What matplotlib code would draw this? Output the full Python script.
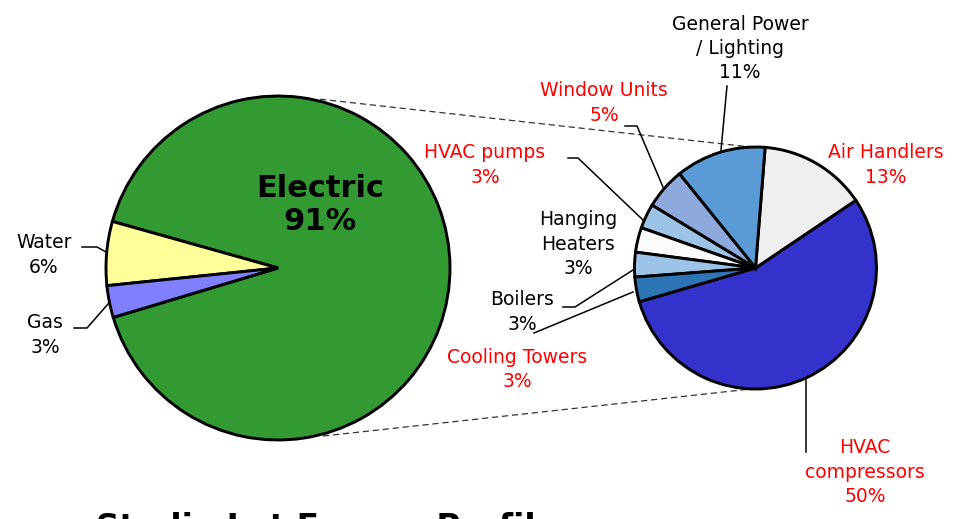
import numpy as np
import matplotlib
matplotlib.use("Agg")
import matplotlib.pyplot as plt

# ---- data ----
main_labels = ["Electric", "Water", "Gas"]
main_values = [91, 6, 3]
main_colors = ["#339933", "#FFFF99", "#8080FF"]

sub_labels = ["HVAC\ncompressors", "Air Handlers", "General Power\n/ Lighting",
              "Window Units", "HVAC pumps", "Hanging\nHeaters", "Boilers",
              "Cooling Towers"]
sub_values = [50, 13, 11, 5, 3, 3, 3, 3]
sub_colors = ["#3333CC", "#EFEFEF", "#5B9BD5", "#8EA9DB", "#9DC3E6",
              "#FAFAFA", "#9DC3E6", "#2E75B6"]
sub_label_colors = ["red", "red", "black", "red", "red", "black", "black", "red"]

title = "Studio Lot Energy Profile"

W, H = 973, 519
plt.rcParams['font.family'] = ['DejaVu Sans']
fig = plt.figure(figsize=(W / 100, H / 100), dpi=100)
ax = fig.add_axes([0, 0, 1, 1])


def Y(y):
    return H - y


# left pie
c1 = (278, Y(268)); r1 = 172
ax.pie(main_values, colors=main_colors, center=c1, radius=r1, startangle=196.7,
       wedgeprops=dict(edgecolor="black", linewidth=2.1), frame=True)
# right pie
c2 = (755.5, Y(268)); r2 = 121
ax.pie(sub_values, colors=sub_colors, center=c2, radius=r2, startangle=196.2,
       wedgeprops=dict(edgecolor="black", linewidth=2.1), frame=True)

ax.set_xlim(0, W)
ax.set_ylim(0, H)
ax.set_aspect("equal")
ax.axis("off")


def pt(c, r, a):
    a = np.deg2rad(a)
    return c[0] + r * np.cos(a), c[1] + r * np.sin(a)


# connector dashed lines
for a1, a2 in [(76, 92), (-75, -92)]:
    p1 = pt(c1, r1 + 2, a1)
    p2 = pt(c2, r2, a2)
    ax.plot([p1[0], p2[0]], [p1[1], p2[1]], color="#333333", lw=0.9,
            ls=(0, (5, 3)), zorder=0)

fs = 13.5
# Electric label
ax.text(320, Y(205), f"{main_labels[0]}\n{main_values[0]}%", ha="center",
        va="center", fontsize=22, fontweight="bold", linespacing=1.15)
# Water / Gas
main_pos = {1: (44, 255), 2: (45, 335)}
for i, (x, y) in main_pos.items():
    ax.text(x, Y(y), f"{main_labels[i]}\n{main_values[i]}%", ha="center",
            va="center", fontsize=fs, linespacing=1.35)

sub_pos = [(865, 472), (886, 165), (740, 48.5), (604, 103), (485, 165),
           (578, 244), (522, 312), (517, 369.5)]
for lab, v, col, (x, y) in zip(sub_labels, sub_values, sub_label_colors, sub_pos):
    ax.text(x, Y(y), f"{lab}\n{v}%", ha="center", va="center", fontsize=fs,
            color=col, linespacing=1.35)

# leader lines (image coords)
leaders = [
    [(82, 247), (97, 247), (106, 252)],
    [(74, 328), (87, 328), (108, 304)],
    [(727, 86), (721, 150)],
    [(625, 126), (637, 126), (663, 187)],
    [(568, 158), (578, 158), (643, 220)],
    [(563, 307), (575, 307), (633, 270)],
    [(534, 333), (633, 292)],
    [(806, 380), (806, 452)],
]
for ln in leaders:
    xs = [p[0] for p in ln]
    ys = [Y(p[1]) for p in ln]
    ax.plot(xs, ys, color="black", lw=1.1, zorder=5)

ax.text(96, Y(512), title, ha="left", va="top", fontsize=23.5, fontweight="bold")

fig.savefig("out.png", dpi=100)
